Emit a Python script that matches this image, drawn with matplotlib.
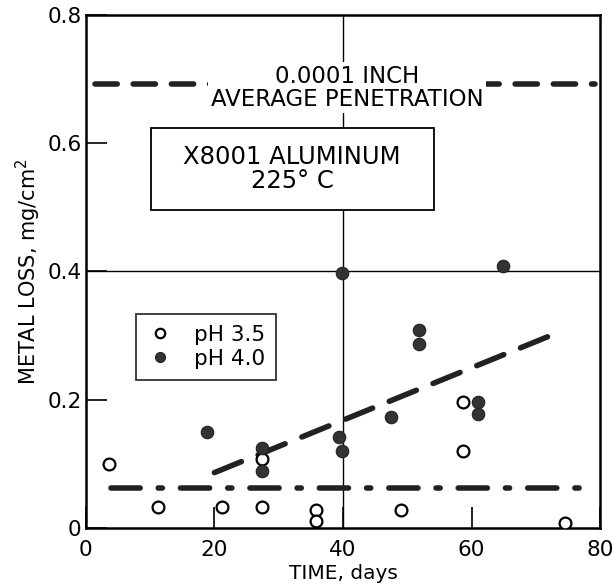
import matplotlib
matplotlib.use("Agg")
import matplotlib.pyplot as plt
from matplotlib.patches import Rectangle

# pH 3.5 (open circles)
t_ph35 = [3.6, 11.3, 21.2, 27.4, 27.4, 35.8, 35.8, 49.1, 58.6, 58.6, 74.5]
loss_ph35 = [0.100, 0.033, 0.033, 0.033, 0.107, 0.028, 0.011, 0.028, 0.119, 0.197, 0.007]

# pH 4.0 (filled circles)
t_ph40 = [18.8, 27.4, 27.4, 39.4, 39.9, 39.9, 47.4, 51.8, 51.8, 61.0, 61.0, 64.9]
loss_ph40 = [0.150, 0.125, 0.089, 0.142, 0.119, 0.397, 0.173, 0.308, 0.287, 0.197, 0.178, 0.408]

# reference lines
trend_t = [20.0, 72.3]
trend_loss = [0.086, 0.300]
ph35_level_t = [3.9, 77.8]
ph35_level = 0.0625
penetration_level = 0.693

plt.rcParams['font.family'] = 'DejaVu Sans'
plt.rcParams['lines.scale_dashes'] = False

fig = plt.figure(figsize=(6.13, 5.87), dpi=100)
ax = fig.add_axes([0.140, 0.101, 0.839, 0.873])
ax.set_xlim(0, 80)
ax.set_ylim(0, 0.8)

# centre cross lines
ax.axvline(40, color='black', lw=1.0, zorder=1)
ax.axhline(0.4, color='black', lw=1.0, zorder=1)

# 0.0001 inch average penetration
ax.plot([1.5, 79.2], [penetration_level] * 2, color='#222222', lw=4,
        dashes=(16, 11.5), dash_capstyle='round', zorder=2)
ax.text(40.6, 0.687, '0.0001 INCH\nAVERAGE PENETRATION', ha='center', va='center',
        fontsize=16.5, linespacing=1.0, zorder=3,
        bbox=dict(facecolor='white', edgecolor='none', pad=2))

# trend for pH 4.0
ax.plot(trend_t, trend_loss, color='#222222', lw=4, dashes=(21, 13),
        dash_capstyle='round', zorder=2)
# level for pH 3.5
ax.plot(ph35_level_t, [ph35_level] * 2, color='#222222', lw=4,
        dashes=(21, 13, 3, 13), dash_capstyle='round', zorder=2)

# data
ax.plot(t_ph35, loss_ph35, 'o', ms=8.5, mfc='white', mec='black', mew=1.6,
        ls='none', zorder=4, label='pH 3.5')
ax.plot(t_ph40, loss_ph40, 'o', ms=9, mfc='#333333', mec='#222222', mew=0.8,
        ls='none', zorder=4, label='pH 4.0')

# title box
ax.add_patch(Rectangle((10.1, 0.496), 44.0, 0.128, facecolor='white',
                       edgecolor='black', lw=1.3, zorder=3))
ax.text(32.1, 0.56, 'X8001 ALUMINUM\n225° C', ha='center', va='center',
        fontsize=17.5, linespacing=1.05, zorder=4)

leg = ax.legend(loc='lower left', bbox_to_anchor=(0.097, 0.289), borderaxespad=0,
                fontsize=15.5, frameon=True, fancybox=False, edgecolor='black',
                handletextpad=0.9, borderpad=0.5, labelspacing=0.2, handlelength=1.3,
                markerscale=0.8)
leg.get_frame().set_linewidth(1.3)
leg.set_zorder(5)

ax.set_xticks([0, 20, 40, 60, 80])
ax.set_yticks([0, 0.2, 0.4, 0.6, 0.8])
ax.set_yticklabels(['0', '0.2', '0.4', '0.6', '0.8'])
ax.tick_params(direction='in', length=15, width=1.2, labelsize=15.5, pad=3)
ax.tick_params(axis='x', pad=9)
for s in ax.spines.values():
    s.set_linewidth(1.8)

ax.set_xlabel('TIME, days', fontsize=14.5, labelpad=3)
ax.set_ylabel('METAL LOSS, mg/cm$^2$', fontsize=15, labelpad=3)

fig.savefig('out.png', dpi=100)
